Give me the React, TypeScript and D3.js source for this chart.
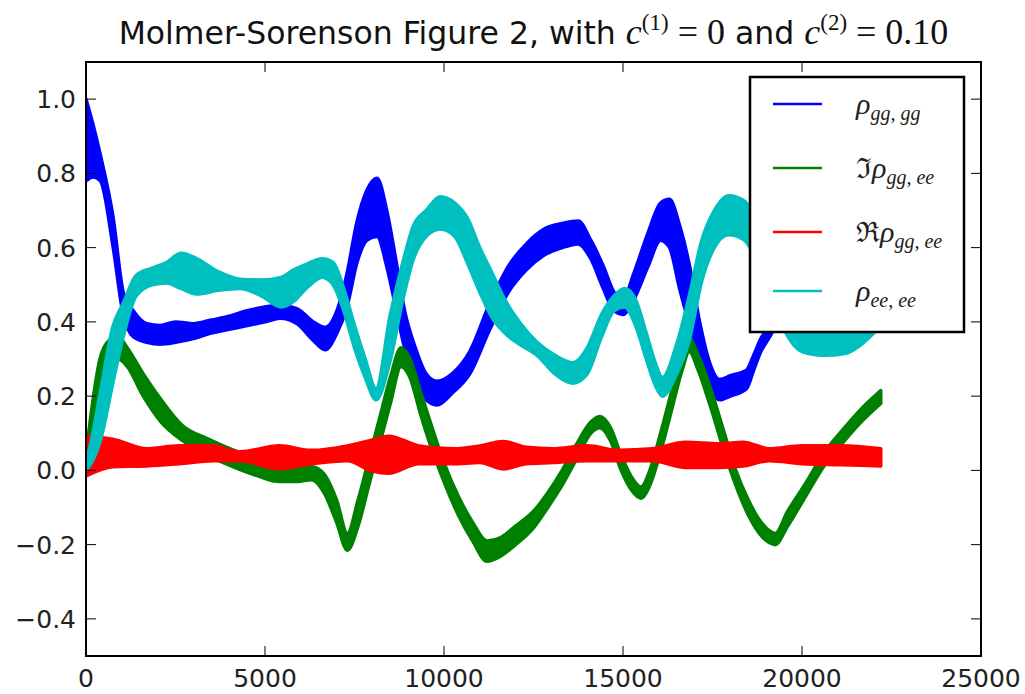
import React from "react";
import * as d3 from "d3";

const W = 1025;
const H = 694;
const box = { left: 86, right: 981, top: 62, bottom: 656 };

const xDomain = [0, 25000];
const yDomain = [-0.5, 1.1];
const xTicks = [0, 5000, 10000, 15000, 20000, 25000];
const yTicks = [-0.4, -0.2, 0.0, 0.2, 0.4, 0.6, 0.8, 1.0];

// rho_{gg,gg}: fast oscillation drawn as its lower / upper envelope
const ggT = [0, 200, 400, 760, 1040, 1320, 1700, 2070, 2500, 3000, 3500, 4000, 4500, 5000, 5420, 5900, 6350, 6680, 7010, 7290, 7570, 7850, 8130, 8400, 8650, 8900, 9200, 9500, 9800, 10250, 10720, 11280, 11800, 12300, 12800, 13300, 13750, 14100, 14450, 14750, 15000, 15300, 15700, 16050, 16300, 16580, 16860, 17140, 17420, 17700, 18000, 18450, 18650, 18850, 19100, 19600, 20200, 21000, 21600, 22200];
const ggLo = [0.78, 0.79, 0.78, 0.6, 0.42, 0.36, 0.345, 0.34, 0.345, 0.355, 0.37, 0.38, 0.39, 0.4, 0.41, 0.395, 0.35, 0.325, 0.37, 0.44, 0.56, 0.62, 0.63, 0.55, 0.44, 0.33, 0.25, 0.19, 0.176, 0.21, 0.26, 0.38, 0.48, 0.54, 0.58, 0.6, 0.61, 0.57, 0.49, 0.43, 0.42, 0.46, 0.55, 0.62, 0.6, 0.49, 0.39, 0.29, 0.22, 0.19, 0.2, 0.22, 0.27, 0.32, 0.36, 0.45, 0.53, 0.58, 0.56, 0.52];
const ggHi = [1.0, 0.93, 0.85, 0.68, 0.48, 0.43, 0.395, 0.39, 0.4, 0.395, 0.405, 0.415, 0.43, 0.44, 0.445, 0.435, 0.4, 0.385, 0.43, 0.53, 0.67, 0.755, 0.787, 0.7, 0.57, 0.43, 0.33, 0.26, 0.24, 0.262, 0.32, 0.45, 0.55, 0.61, 0.65, 0.665, 0.672, 0.62, 0.55, 0.48, 0.46, 0.53, 0.64, 0.72, 0.73, 0.66, 0.55, 0.4, 0.29, 0.245, 0.255, 0.27, 0.31, 0.355, 0.39, 0.5, 0.6, 0.66, 0.64, 0.6];

// Im rho_{gg,ee}
const imT = [0, 100, 390, 650, 900, 1150, 1600, 2100, 2700, 3400, 4100, 4800, 5400, 5900, 6300, 6650, 7000, 7300, 7600, 7900, 8200, 8500, 8800, 9050, 9350, 9650, 10000, 10400, 10800, 11200, 11600, 12000, 12500, 12900, 13300, 13700, 14100, 14350, 14650, 14950, 15250, 15500, 15750, 16050, 16350, 16650, 16850, 17100, 17450, 17800, 18150, 18500, 18900, 19250, 19600, 20100, 20600, 21100, 21650, 22200];
const imLo = [0.0, 0.02, 0.16, 0.27, 0.3, 0.28, 0.2, 0.13, 0.08, 0.04, 0.01, -0.015, -0.03, -0.03, -0.025, -0.06, -0.14, -0.215, -0.15, -0.04, 0.07, 0.18, 0.28, 0.25, 0.15, 0.06, -0.03, -0.12, -0.19, -0.245, -0.23, -0.2, -0.155, -0.1, -0.04, 0.03, 0.1, 0.115, 0.08, 0.0, -0.055, -0.075, -0.04, 0.05, 0.16, 0.27, 0.32, 0.27, 0.17, 0.06, -0.04, -0.12, -0.18, -0.2, -0.15, -0.07, 0.01, 0.07, 0.13, 0.18];
const imHi = [0.04, 0.12, 0.3, 0.35, 0.36, 0.33, 0.26, 0.19, 0.12, 0.085, 0.055, 0.03, 0.01, 0.005, 0.01, -0.01, -0.08, -0.17, -0.08, 0.03, 0.14, 0.25, 0.33, 0.3, 0.21, 0.12, 0.02, -0.07, -0.14, -0.19, -0.18, -0.15, -0.11, -0.06, 0.0, 0.07, 0.13, 0.145, 0.115, 0.04, -0.02, -0.045, 0.0, 0.1, 0.21, 0.32, 0.355, 0.31, 0.22, 0.11, 0.0, -0.08, -0.145, -0.17, -0.11, -0.035, 0.045, 0.105, 0.165, 0.215];

// Re rho_{gg,ee}
const reT = [0, 750, 1700, 2600, 3550, 4300, 5400, 6300, 7300, 8000, 8450, 9300, 10250, 11000, 11650, 12300, 13050, 14000, 14900, 15800, 16750, 17700, 18350, 19100, 20000, 21100, 22200];
const reLo = [-0.015, 0.01, 0.012, 0.018, 0.026, 0.026, 0.004, 0.018, 0.026, -0.002, -0.008, 0.018, 0.018, 0.021, 0.004, 0.018, 0.021, 0.026, 0.026, 0.026, 0.008, 0.008, 0.012, 0.026, 0.018, 0.015, 0.012];
const reHi = [0.092, 0.084, 0.058, 0.066, 0.066, 0.05, 0.066, 0.054, 0.066, 0.082, 0.092, 0.066, 0.058, 0.066, 0.078, 0.062, 0.058, 0.066, 0.054, 0.058, 0.076, 0.072, 0.076, 0.058, 0.066, 0.066, 0.058];

// rho_{ee,ee}
const eeT = [0, 150, 400, 760, 1040, 1400, 1850, 2250, 2650, 3100, 3700, 4300, 4900, 5450, 5800, 6150, 6600, 6900, 7200, 7500, 7800, 8100, 8500, 8850, 9150, 9500, 9900, 10300, 10650, 11000, 11350, 11700, 12100, 12600, 13100, 13600, 14000, 14400, 14750, 15050, 15350, 15650, 15900, 16100, 16500, 16850, 17200, 17550, 17950, 18400, 18700, 19100, 19500, 20000, 20600, 21200, 21600, 22000, 22200];
const eeLo = [0.0, 0.02, 0.08, 0.24, 0.36, 0.47, 0.5, 0.505, 0.49, 0.475, 0.485, 0.49, 0.47, 0.44, 0.455, 0.49, 0.52, 0.5, 0.43, 0.33, 0.25, 0.19, 0.297, 0.46, 0.57, 0.63, 0.65, 0.63, 0.56, 0.48, 0.41, 0.37, 0.34, 0.31, 0.26, 0.235, 0.26, 0.36, 0.43, 0.44, 0.39, 0.3, 0.23, 0.2, 0.26, 0.35, 0.51, 0.6, 0.635, 0.62, 0.57, 0.48, 0.38, 0.32, 0.31, 0.315, 0.335, 0.37, 0.39];
const eeHi = [0.02, 0.08, 0.21, 0.39, 0.45, 0.525, 0.545, 0.56, 0.585, 0.57, 0.535, 0.515, 0.513, 0.52, 0.54, 0.555, 0.57, 0.56, 0.49, 0.39, 0.3, 0.22, 0.42, 0.56, 0.66, 0.7, 0.737, 0.72, 0.68, 0.6, 0.53, 0.46, 0.4, 0.345, 0.31, 0.29, 0.33, 0.42, 0.47, 0.49, 0.46, 0.37, 0.29, 0.25, 0.34, 0.47, 0.62, 0.7, 0.74, 0.725, 0.68, 0.6, 0.5, 0.42, 0.4, 0.4, 0.42, 0.45, 0.47];

type Series = { key: string; color: string; t: number[]; lo: number[]; hi: number[] };

const series: Series[] = [
  { key: "gggg", color: "#0000ff", t: ggT, lo: ggLo, hi: ggHi },
  { key: "im", color: "#008000", t: imT, lo: imLo, hi: imHi },
  { key: "re", color: "#ff0000", t: reT, lo: reLo, hi: reHi },
  { key: "eeee", color: "#00bfbf", t: eeT, lo: eeLo, hi: eeHi },
];

const SERIF = "'DejaVu Serif', 'Liberation Serif', serif";
const MATH = "'Liberation Serif', serif";
const SANS = "'DejaVu Sans', sans-serif";

function LegendLabel({ kind, x, y }: { kind: string; x: number; y: number }) {
  const sub = kind === "gggg" ? "gg, gg" : kind === "eeee" ? "ee, ee" : "gg, ee";
  const prefix = kind === "im" ? "\u2111" : kind === "re" ? "\u211C" : "";
  return (
    <text x={x} y={y} fontFamily={SERIF} fill="#222">
      {prefix && (
        <tspan fontSize={28} fontStyle="normal">
          {prefix}
        </tspan>
      )}
      <tspan fontSize={30} fontStyle="italic" fontFamily={MATH}>
        ρ
      </tspan>
      <tspan fontSize={20} fontStyle="italic" dy={6} fontFamily={MATH}>
        {sub}
      </tspan>
    </text>
  );
}

export default function App() {
  const x = d3.scaleLinear().domain(xDomain).range([box.left, box.right]);
  const y = d3.scaleLinear().domain(yDomain).range([box.bottom, box.top]);

  const paths = series.map((s) => {
    const rows = s.t.map((t, i) => ({ t, lo: s.lo[i], hi: s.hi[i] }));
    const area = d3
      .area<{ t: number; lo: number; hi: number }>()
      .x((d) => x(d.t))
      .y0((d) => y(d.lo))
      .y1((d) => y(d.hi))
      .curve(d3.curveMonotoneX);
    return { key: s.key, color: s.color, d: area(rows) || "" };
  });

  const legendRows = [
    { kind: "gggg", color: "#0000ff", y: 104 },
    { kind: "im", color: "#008000", y: 168 },
    { kind: "re", color: "#ff0000", y: 232 },
    { kind: "eeee", color: "#00bfbf", y: 291 },
  ];

  const fmtY = (v: number) => (v < 0 ? "\u2212" + Math.abs(v).toFixed(1) : v.toFixed(1));
  const tickLen = 10;

  return (
    <div style={{ position: "absolute", left: 0, top: 0 }}>
      <svg width={W} height={H} style={{ display: "block", background: "#fff" }}>
        <defs>
          <clipPath id="plot-clip">
            <rect x={box.left} y={box.top} width={box.right - box.left} height={box.bottom - box.top} />
          </clipPath>
        </defs>

        <g clipPath="url(#plot-clip)">
          {paths.map((p) => (
            <path
              key={p.key}
              d={p.d}
              fill={p.color}
              stroke={p.color}
              strokeWidth={3.5}
              strokeLinejoin="round"
            />
          ))}
        </g>

        {/* ticks on all four sides, pointing inward */}
        <g stroke="#000" strokeWidth={1}>
          {xTicks.map((t) => (
            <g key={"xt" + t}>
              <line x1={x(t)} x2={x(t)} y1={box.bottom} y2={box.bottom - tickLen} />
              <line x1={x(t)} x2={x(t)} y1={box.top} y2={box.top + tickLen} />
            </g>
          ))}
          {yTicks.map((t) => (
            <g key={"yt" + t}>
              <line x1={box.left} x2={box.left + tickLen} y1={y(t)} y2={y(t)} />
              <line x1={box.right} x2={box.right - tickLen} y1={y(t)} y2={y(t)} />
            </g>
          ))}
        </g>

        <rect
          x={box.left}
          y={box.top}
          width={box.right - box.left}
          height={box.bottom - box.top}
          fill="none"
          stroke="#000"
          strokeWidth={2}
        />

        <g fontFamily={SANS} fontSize={25} fill="#222">
          {xTicks.map((t) => (
            <text key={"xl" + t} x={x(t)} y={687} textAnchor="middle">
              {t}
            </text>
          ))}
          {yTicks.map((t) => (
            <text key={"yl" + t} x={76} y={y(t) + 9} textAnchor="end">
              {fmtY(t)}
            </text>
          ))}
        </g>

        {/* title */}
        <text x={(box.left + box.right) / 2} y={44} textAnchor="middle" fontFamily={SANS} fontSize={31.5} fill="#111">
          <tspan>Molmer-Sorenson Figure 2, with </tspan>
          <tspan fontFamily={MATH} fontStyle="italic" fontSize={36}>c</tspan>
          <tspan fontFamily={MATH} fontSize={23} dy={-14}>(1)</tspan>
          <tspan fontFamily={MATH} fontSize={36} dy={14}>{" = 0"}</tspan>
          <tspan> and </tspan>
          <tspan fontFamily={MATH} fontStyle="italic" fontSize={36}>c</tspan>
          <tspan fontFamily={MATH} fontSize={23} dy={-14}>(2)</tspan>
          <tspan fontFamily={MATH} fontSize={36} dy={14}>{" = 0.10"}</tspan>
        </text>

        {/* legend */}
        <rect x={750} y={77} width={214} height={255} fill="#fff" stroke="#000" strokeWidth={2.5} />
        {legendRows.map((r) => (
          <g key={"lg" + r.kind}>
            <line x1={773} x2={822} y1={r.y} y2={r.y} stroke={r.color} strokeWidth={2.5} />
            <LegendLabel kind={r.kind} x={856} y={r.y + 10} />
          </g>
        ))}
      </svg>
    </div>
  );
}
